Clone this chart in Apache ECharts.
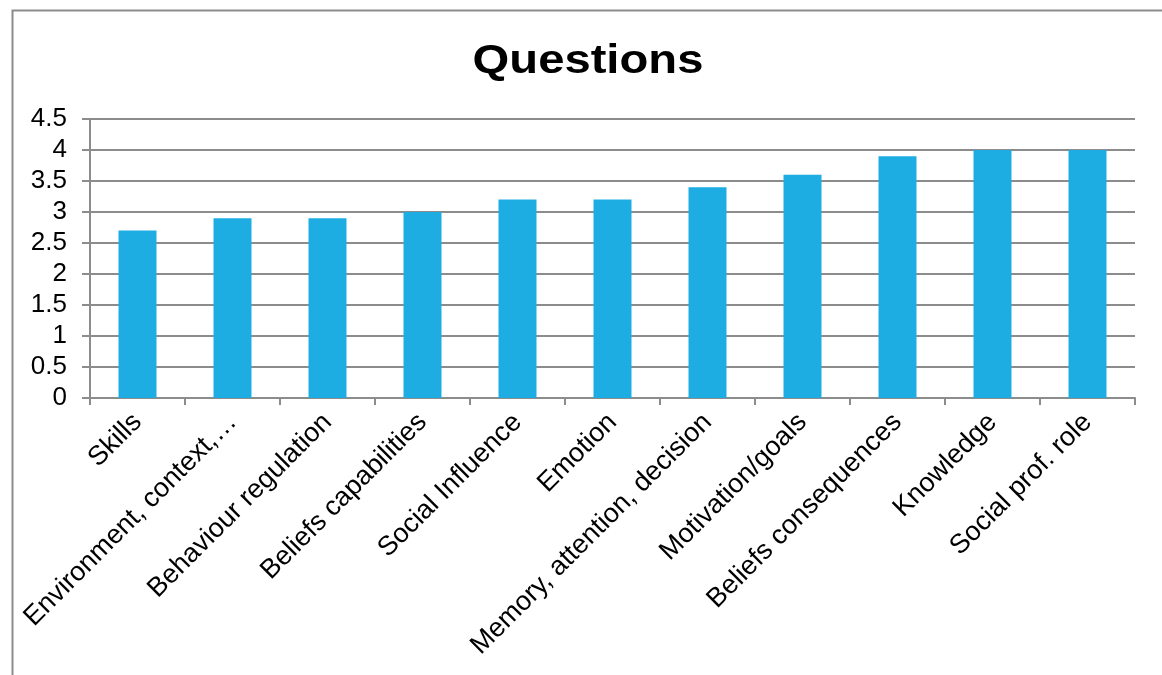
<!DOCTYPE html>
<html>
<head>
<meta charset="utf-8">
<script src="https://cdn.jsdelivr.net/npm/echarts@6/dist/echarts.min.js"></script>
<style>
  html, body { margin: 0; padding: 0; background: #fff; }
  #chart { width: 1162px; height: 675px; }
</style>
</head>
<body>
<div id="chart"></div>
<script>
// Mean score per domain
const categories = [
  'Skills',
  'Environment, context,…',
  'Behaviour regulation',
  'Beliefs capabilities',
  'Social Influence',
  'Emotion',
  'Memory, attention, decision',
  'Motivation/goals',
  'Beliefs consequences',
  'Knowledge',
  'Social prof. role'
];
const scores = [2.7, 2.9, 2.9, 3.0, 3.2, 3.2, 3.4, 3.6, 3.9, 4.0, 4.0];
const yTicks = { min: 0, max: 4.5, step: 0.5 };
const chartTitle = 'Questions';

const chart = echarts.init(document.getElementById('chart'), null, { renderer: 'canvas' });
const font = '"Liberation Sans", Arial, sans-serif';
const gray = '#8c8c8c';

chart.setOption({
  animation: false,
  backgroundColor: '#ffffff',
  graphic: [
    {
      type: 'rect',
      shape: { x: 12.5, y: 10.5, width: 1200, height: 700 },
      style: { fill: null, stroke: gray, lineWidth: 2 },
      silent: true,
      z: -1
    },
    {
      // wide bold heading
      type: 'text',
      x: 588,
      y: 62,
      scaleX: 1.18,
      style: {
        text: chartTitle,
        font: 'bold 40px ' + font,
        fill: '#000',
        textAlign: 'center',
        textVerticalAlign: 'middle'
      },
      silent: true
    }
  ],
  grid: { left: 90, right: 27, top: 119, bottom: 277, containLabel: false },
  xAxis: {
    type: 'category',
    data: categories,
    axisLine: { show: true, lineStyle: { color: gray, width: 2 } },
    axisTick: { show: true, length: 7, alignWithLabel: false, lineStyle: { color: gray, width: 2 } },
    axisLabel: {
      rotate: 45,
      interval: 0,
      margin: 20,
      fontFamily: font,
      fontSize: 27,
      color: '#000'
    },
    splitLine: { show: false }
  },
  yAxis: {
    type: 'value',
    min: yTicks.min,
    max: yTicks.max,
    interval: yTicks.step,
    axisLine: { show: true, lineStyle: { color: gray, width: 2 } },
    axisTick: { show: true, length: 8, lineStyle: { color: gray, width: 2 } },
    axisLabel: { margin: 23, fontFamily: font, fontSize: 26, color: '#000' },
    splitLine: { show: true, lineStyle: { color: gray, width: 2 } }
  },
  series: [{
    type: 'bar',
    data: scores,
    barWidth: 38,
    itemStyle: { color: '#1eade3' }
  }]
});
</script>
</body>
</html>
